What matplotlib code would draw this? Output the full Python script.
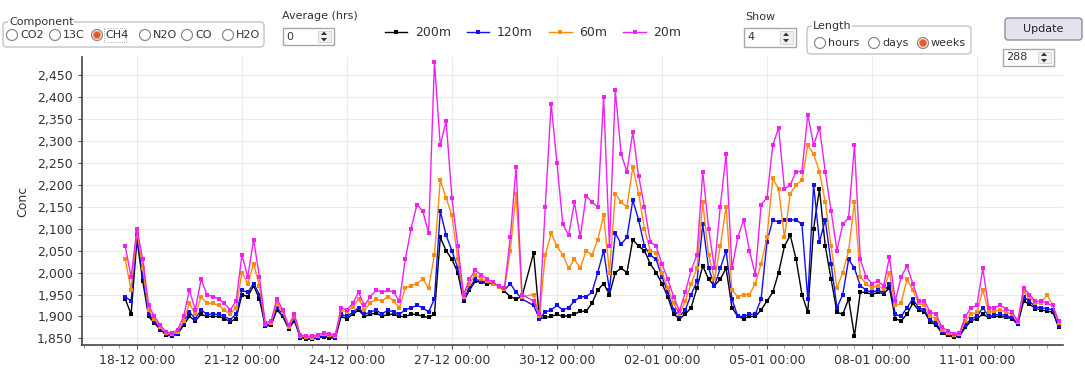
import numpy as np
import pandas as pd
import matplotlib
matplotlib.use('Agg')
import matplotlib.pyplot as plt
import matplotlib.dates as mdates
from matplotlib.ticker import FuncFormatter, MultipleLocator
from matplotlib.patches import FancyBboxPatch, Circle, Rectangle, Polygon
from matplotlib.lines import Line2D

# 4-hourly samples, 17-12 16:00 -> 13-01 08:00
times = pd.date_range('2012-12-17 16:00', periods=161, freq='4h')

nan = np.nan
conc_200m = [1940, 1905,
             2075, 1980, 1900, 1885, 1870, 1858,   # 18-12
             1855, 1860, 1880, 1900, 1890, 1905,   # 19-12
             1900, 1900, 1900, 1895, 1888, 1895,   # 20-12
             1950, 1945, 1970, 1940, 1878, 1880,   # 21-12
             1915, 1900, 1872, 1890, 1852, 1849,   # 22-12
             1848, 1851, 1854, 1852, 1850, 1900,   # 23-12
             1895, 1905, 1915, 1900, 1905, 1908,   # 24-12
             1900, 1905, 1905, 1900, 1900, 1905,   # 25-12
             1905, 1900, 1898, 1905, 2080, 2050,   # 26-12
             2030, 2000, 1935, 1960, 1980, 1978,   # 27-12
             1975, 1975, 1970, 1958, 1945, 1940,   # 28-12
             1945, nan, 2045, 1895, 1898, 1900,    # 29-12
             1905, 1900, 1902, 1905, 1912, 1912,   # 30-12
             1930, 1960, 1975, 1950, 2000, 2010,   # 31-12
             2000, 2075, 2060, 2050, 2020, 2000,   # 01-01
             1975, 1945, 1905, 1895, 1905, 1920,   # 02-01
             1965, 2015, 1985, 1970, 1985, 2010,   # 03-01
             1920, 1900, 1895, 1900, 1900, 1915,   # 04-01
             1935, 1955, 2000, 2060, 2085, 2030,   # 05-01
             1950, 1910, 2100, 2190, 2060, 1985,   # 06-01
             1910, 1905, 1940, 1855, 1955, 1955,   # 07-01
             1950, 1955, 1952, 1965, 1895, 1890,   # 08-01
             1905, 1930, 1915, 1910, 1888, 1880,   # 09-01
             1862, 1857, 1853, 1855, 1875, 1890,   # 10-01
             1895, 1905, 1898, 1900, 1900, 1898,   # 11-01
             1895, 1882, 1935, 1928, 1918, 1915,   # 12-01
             1912, 1910, 1875]

conc_120m = [1945, 1935,
             2085, 1990, 1905, 1890, 1872, 1860,
             1857, 1862, 1885, 1910, 1895, 1915,
             1905, 1905, 1905, 1900, 1893, 1905,
             1960, 1955, 1975, 1950, 1880, 1883,
             1920, 1905, 1875, 1895, 1854, 1851,
             1850, 1853, 1856, 1855, 1853, 1905,
             1900, 1910, 1920, 1905, 1910, 1915,
             1905, 1915, 1910, 1905, 1915, 1920,
             1925, 1920, 1910, 1940, 2140, 2085,
             2050, 2010, 1940, 1965, 1985, 1980,
             1978, 1975, 1970, 1960, 1975, 1955,
             1940, nan, 1925, 1895, 1910, 1915,
             1925, 1915, 1920, 1935, 1945, 1945,
             1955, 2000, 2050, 1960, 2090, 2065,
             2080, 2165, 2120, 2060, 2040, 2030,
             1990, 1955, 1915, 1900, 1915, 1950,
             1980, 2110, 2010, 1970, 2010, 2050,
             1940, 1900, 1900, 1905, 1905, 1940,
             2070, 2120, 2115, 2120, 2120, 2120,
             2110, 1940, 2200, 2070, 2120, 2020,
             1920, 1950, 2030, 2010, 1970, 1960,
             1955, 1960, 1955, 1975, 1905, 1900,
             1920, 1940, 1920, 1915, 1892, 1885,
             1865, 1860, 1855, 1857, 1880, 1895,
             1900, 1920, 1900, 1903, 1905, 1902,
             1898, 1885, 1945, 1935, 1922, 1920,
             1918, 1915, 1878]

conc_60m = [2030, 1960,
            2095, 2010, 1915, 1895, 1875, 1862,
            1860, 1865, 1890, 1930, 1905, 1945,
            1930, 1930, 1925, 1915, 1905, 1920,
            2000, 1975, 2020, 1970, 1882, 1886,
            1930, 1910, 1877, 1900, 1856, 1853,
            1852, 1855, 1859, 1857, 1855, 1915,
            1910, 1922, 1940, 1915, 1930, 1940,
            1935, 1945, 1935, 1920, 1965, 1970,
            1975, 1985, 1965, 2040, 2210, 2170,
            2130, 2030, 1945, 1975, 1995, 1985,
            1980, 1975, 1968, 1962, 2050, 2180,
            1945, nan, 1950, 1900, 2040, 2090,
            2060, 2040, 2010, 2030, 2010, 2050,
            2040, 2075, 2130, 2000, 2180, 2160,
            2150, 2240, 2180, 2100, 2050, 2045,
            2000, 1965, 1930, 1905, 1935, 1975,
            2010, 2160, 2040, 1985, 2060, 2150,
            1960, 1945, 1950, 1950, 1975, 2020,
            2080, 2215, 2190, 2080, 2180, 2200,
            2210, 2290, 2270, 2230, 2160, 2060,
            1965, 2000, 2050, 2160, 1990, 1975,
            1965, 1970, 1962, 2000, 1925, 1930,
            1985, 1960, 1930, 1925, 1900, 1895,
            1870, 1863, 1858, 1860, 1890, 1905,
            1910, 1960, 1910, 1912, 1915, 1910,
            1905, 1888, 1955, 1945, 1930, 1930,
            1950, 1925, 1885]

conc_20m = [2060, 1990,
            2100, 2030, 1925, 1900, 1880, 1865,
            1862, 1870, 1900, 1960, 1915, 1985,
            1950, 1945, 1940, 1930, 1915, 1935,
            2040, 1990, 2075, 1990, 1885, 1890,
            1940, 1915, 1880, 1905, 1858, 1855,
            1855, 1858, 1862, 1860, 1858, 1920,
            1915, 1930, 1955, 1925, 1945, 1960,
            1955, 1960, 1955, 1935, 2030, 2100,
            2155, 2140, 2090, 2480, 2290, 2345,
            2170, 2060, 1950, 1985, 2005, 1995,
            1985, 1978, 1970, 1965, 2080, 2240,
            1950, nan, 1935, 1905, 2150, 2385,
            2250, 2110, 2085, 2160, 2080, 2175,
            2160, 2150, 2400, 2060, 2415, 2270,
            2230, 2320, 2220, 2150, 2070, 2060,
            2020, 1985, 1945, 1912, 1955, 2005,
            2040, 2230, 2100, 2010, 2150, 2270,
            2010, 2080, 2120, 2050, 1995, 2155,
            2170, 2290, 2330, 2190, 2200, 2230,
            2230, 2360, 2290, 2330, 2230, 2140,
            2050, 2110, 2125, 2290, 2030, 1990,
            1975, 1980, 1970, 2035, 1935, 1990,
            2015, 1975, 1935, 1935, 1910, 1905,
            1875, 1868, 1860, 1862, 1900, 1920,
            1925, 2010, 1920, 1920, 1925, 1918,
            1910, 1890, 1965, 1950, 1935, 1935,
            1930, 1925, 1890]

series_names = ['200m', '120m', '60m', '20m']
series_colors = ['#000000', '#1010f0', '#ff8a10', '#f020f0']

W, H = 1085, 370
fig = plt.figure(figsize=(W / 100, H / 100), dpi=100)

# main chart
ax = fig.add_axes([82 / W, 1 - 345 / H, (1063 - 82) / W, (345 - 57) / H])
series = [conc_200m, conc_120m, conc_60m, conc_20m]
t = np.array(times)
for vals, name, col in zip(series, series_names, series_colors):
    v = np.array(vals, dtype=float)
    ok = ~np.isnan(v)
    ax.plot(t[ok], v[ok], color=col, lw=1.0, marker='s', ms=3.4, mew=0, label=name)

ax.set_xlim(pd.Timestamp('2012-12-16 10:20'), pd.Timestamp('2013-01-13 11:00'))
ax.set_ylim(1835, 2491)
ax.set_xticks(pd.date_range('2012-12-18', '2013-01-11', freq='3D'))
ax.xaxis.set_major_formatter(mdates.DateFormatter('%d-%m %H:%M'))
ax.xaxis.set_minor_locator(mdates.HourLocator(byhour=[0, 12]))
ax.yaxis.set_major_locator(MultipleLocator(50))
ax.yaxis.set_major_formatter(FuncFormatter(lambda v, p: f'{v:,.0f}'))
txt = '#333333'
ax.tick_params(axis='both', labelsize=9, colors='#555555', labelcolor=txt, length=3)
ax.tick_params(axis='x', which='minor', length=2, colors='#888888')
ax.grid(True, which='major', color='#ebebeb', lw=0.8)
ax.set_axisbelow(True)
for s in ['top', 'right']:
    ax.spines[s].set_visible(False)
for s in ['left', 'bottom']:
    ax.spines[s].set_color('#444444')
    ax.spines[s].set_linewidth(1.2)
ax.set_ylabel('Conc', fontsize=9, color=txt, labelpad=6)

# overlay in pixel coords for the control widgets, drawn on top
ui = fig.add_axes([0, 0, 1, 1])
ui.set_xlim(0, W)
ui.set_ylim(H, 0)
ui.axis('off')
ui.set_zorder(5)


def group_box(x0, y0, x1, y1, label):
    ui.add_patch(FancyBboxPatch((x0, y0), x1 - x0, y1 - y0,
                                boxstyle='round,pad=0,rounding_size=4',
                                ec='#c4c4c4', fc='none', lw=1))
    ui.text(x0 + 6, y0, label, fontsize=8, color=txt, va='center', ha='left',
            bbox=dict(fc='white', ec='none', pad=0.5))


def radio(x, y, label, selected=False):
    ui.add_patch(Circle((x, y), 5.5, fc='white', ec='#8c8c8c', lw=0.9))
    if selected:
        ui.add_patch(Circle((x, y), 3.8, fc='#e2572b', ec='#f3a27f', lw=0.8))
    ui.text(x + 8, y, label, fontsize=8, color=txt, va='center', ha='left')


def spinbox(x0, y0, x1, y1, val):
    ui.add_patch(Rectangle((x0, y0), x1 - x0, y1 - y0, fc='white', ec='#a8a8a8', lw=1))
    ui.text(x0 + 3, (y0 + y1) / 2, val, fontsize=8, color=txt, va='center', ha='left')
    ym = (y0 + y1) / 2
    ax_ = x1 - 10
    ui.add_patch(Rectangle((x1 - 16, y0 + 3), 13, y1 - y0 - 6, fc='#f0f0f0', ec='#d0d0d0', lw=0.6))
    ui.add_patch(Polygon([(ax_ - 3, ym - 1.5), (ax_ + 3, ym - 1.5), (ax_, ym - 5)], fc='#333', ec='none'))
    ui.add_patch(Polygon([(ax_ - 3, ym + 1.5), (ax_ + 3, ym + 1.5), (ax_, ym + 5)], fc='#333', ec='none'))


# Component
group_box(3, 22, 264, 47, 'Component')
comps = ['CO2', '13C', 'CH4', 'N2O', 'CO', 'H2O']
comp_x = [12, 55, 97, 145, 187, 228]
for cx, cn in zip(comp_x, comps):
    radio(cx, 35, cn, selected=(cn == 'CH4'))
ui.add_patch(Rectangle((104, 28), 22, 14, fc='none', ec='#909090', lw=0.6, ls=':'))

ui.text(282, 16, 'Average (hrs)', fontsize=8, color=txt, va='center', ha='left')
spinbox(283, 28, 334, 45, '0')

ui.text(745, 17, 'Show', fontsize=8, color=txt, va='center', ha='left')
spinbox(744, 28, 796, 47, '4')

group_box(807, 26, 971, 54, 'Length')
radio(820, 43, 'hours')
radio(874, 43, 'days')
radio(923, 43, 'weeks', selected=True)

ui.add_patch(FancyBboxPatch((1005, 18), 77, 22, boxstyle='round,pad=0,rounding_size=3',
                            fc='#e2e3ec', ec='#8e8fa0', lw=1))
ui.text(1043.5, 29, 'Update', fontsize=8, color='#222222', va='center', ha='center')
spinbox(1003, 49, 1054, 66, '288')

handles = [Line2D([], [], color=c, lw=1, marker='s', ms=3, mew=0) for c in series_colors]
fig.legend(handles, series_names, loc='center', bbox_to_anchor=(533 / W, 1 - 33 / H),
           ncol=4, frameon=False, fontsize=9, handlelength=1.8, columnspacing=1.3,
           handletextpad=0.6, labelcolor=txt)

fig.savefig('out.png', dpi=100)
